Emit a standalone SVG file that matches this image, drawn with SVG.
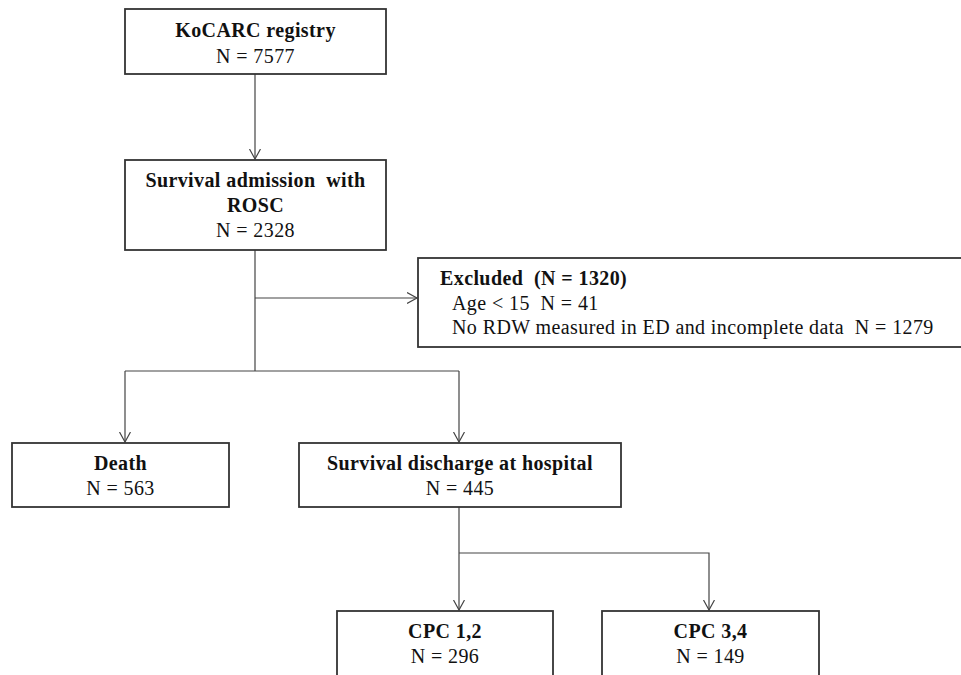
<svg xmlns="http://www.w3.org/2000/svg" width="961" height="675" viewBox="0 0 961 675">
<style>
.box{fill:#fff;stroke:#333;stroke-width:1.8}
.c{fill:none;stroke:#444;stroke-width:1.2}
text{font-family:"Liberation Serif","Times New Roman",serif;font-size:20px;letter-spacing:0.4px;fill:#111;white-space:pre}
.b{font-weight:bold}
.m{text-anchor:middle}
</style>
<defs>
<marker id="ah" markerUnits="userSpaceOnUse" markerWidth="12" markerHeight="14" refX="10" refY="6" orient="auto">
<path d="M0,0.5 L10,6 L0,11.5" fill="none" stroke="#444" stroke-width="1.2"/>
</marker>
</defs>
<rect width="961" height="675" fill="#fff"/>
<g id="connectors">
<path class="c" d="M255,74 V159" marker-end="url(#ah)"/>
<path class="c" d="M255,250 V371"/>
<path class="c" d="M255,298 H417" marker-end="url(#ah)"/>
<path class="c" d="M125,371 H459"/>
<path class="c" d="M125,371 V442" marker-end="url(#ah)"/>
<path class="c" d="M459,371 V442" marker-end="url(#ah)"/>
<path class="c" d="M459,507 V610" marker-end="url(#ah)"/>
<path class="c" d="M459,553 H709 V610" marker-end="url(#ah)"/>
</g>
<g id="registry">
<rect class="box" x="125" y="9" width="261" height="65"/>
<text class="b m" x="255.5" y="37">KoCARC registry</text>
<text class="m" x="255.5" y="63">N = 7577</text>
</g>
<g id="admission">
<rect class="box" x="125" y="160" width="261" height="90"/>
<text class="b m" x="255.5" y="187" xml:space="preserve">Survival admission  with</text>
<text class="b m" x="255.5" y="212">ROSC</text>
<text class="m" x="255.5" y="237">N = 2328</text>
</g>
<g id="excluded">
<rect class="box" x="418" y="258" width="546" height="89"/>
<text class="b" x="440" y="285" xml:space="preserve">Excluded  (N = 1320)</text>
<text x="452" y="310" xml:space="preserve">Age &lt; 15  N = 41</text>
<text x="452" y="334" xml:space="preserve">No RDW measured in ED and incomplete data  N = 1279</text>
</g>
<g id="death">
<rect class="box" x="12" y="443" width="217" height="64"/>
<text class="b m" x="120.5" y="470">Death</text>
<text class="m" x="120.5" y="495">N = 563</text>
</g>
<g id="discharge">
<rect class="box" x="299" y="443" width="322" height="64"/>
<text class="b m" x="460" y="470">Survival discharge at hospital</text>
<text class="m" x="460" y="495">N = 445</text>
</g>
<g id="cpc12">
<rect class="box" x="337" y="611" width="216" height="80"/>
<text class="b m" x="445" y="638">CPC 1,2</text>
<text class="m" x="445" y="663">N = 296</text>
</g>
<g id="cpc34">
<rect class="box" x="602" y="611" width="217" height="80"/>
<text class="b m" x="710.5" y="638">CPC 3,4</text>
<text class="m" x="710.5" y="663">N = 149</text>
</g>
</svg>
